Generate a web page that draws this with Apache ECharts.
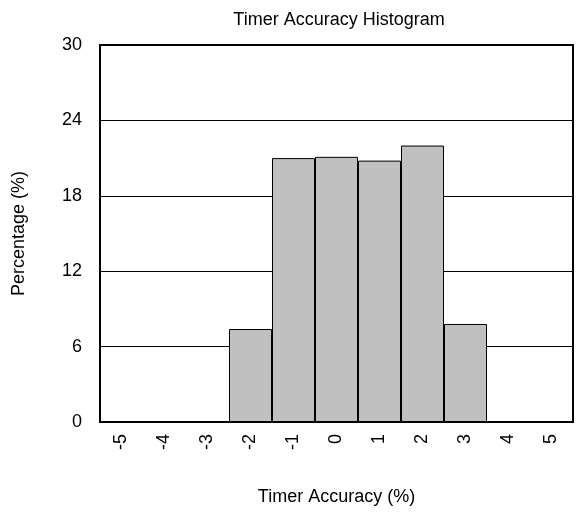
<!DOCTYPE html>
<html><head><meta charset="utf-8">
<script src="https://cdn.jsdelivr.net/npm/echarts@6/dist/echarts.min.js"></script>
<style>html,body{margin:0;padding:0;background:#fff}#c{width:580px;height:513px}</style>
</head><body><div id="c"></div>
<script>
const categories = ['-5','-4','-3','-2','-1','0','1','2','3','4','5'];
const percentages = [0, 0, 0, 7.4, 21.0, 21.1, 20.8, 22.0, 7.8, 0, 0];
const yTicks = {min: 0, max: 30, interval: 6};

const chart = echarts.init(document.getElementById('c'));
const font = 'Liberation Sans, Arial, sans-serif';
chart.setOption({
  animation: false,
  title: {text: 'Timer Accuracy Histogram', left: 334, textAlign: 'center', top: 6,
    textStyle: {fontFamily: font, fontSize: 18, fontWeight: 'normal', color: '#000'}},
  grid: {left: 100, right: 7, top: 45, bottom: 91, show: true, borderColor: '#000', borderWidth: 2,
    backgroundColor: 'transparent', outerBoundsMode: 'none', containLabel: false},
  xAxis: {type: 'category', data: categories,
    name: 'Timer Accuracy (%)', nameLocation: 'middle', nameGap: 66,
    nameTextStyle: {fontFamily: font, fontSize: 18, color: '#000'},
    axisLine: {show: true, lineStyle: {color: '#000', width: 2}},
    axisTick: {show: false},
    axisLabel: {rotate: 90, margin: 12, fontFamily: font, fontSize: 18, color: '#000'}},
  yAxis: {type: 'value', min: yTicks.min, max: yTicks.max, interval: yTicks.interval,
    name: 'Percentage (%)', nameLocation: 'middle', nameGap: 72,
    nameTextStyle: {fontFamily: font, fontSize: 18, color: '#000'},
    axisLine: {show: true, lineStyle: {color: '#000', width: 2}},
    axisTick: {show: false},
    splitLine: {show: true, lineStyle: {color: '#000', width: 1}},
    axisLabel: {margin: 18, fontFamily: font, fontSize: 18, color: '#000'}},
  series: [{type: 'bar', data: percentages, barCategoryGap: '0%',
    itemStyle: {color: '#c0c0c0', borderColor: '#000', borderWidth: 1}}]
});
</script></body></html>
